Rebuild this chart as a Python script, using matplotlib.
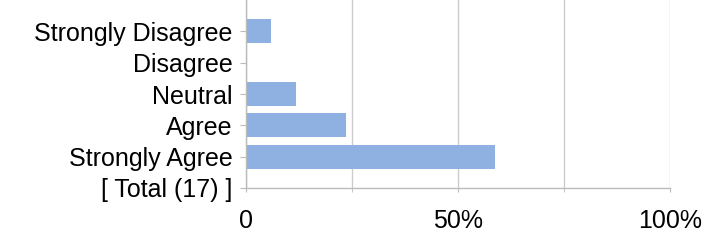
import numpy as np
import matplotlib.pyplot as plt

# survey answers, drawn bottom to top as listed in the picture
categories = ["[ Total (17) ]", "Strongly Agree", "Agree", "Neutral", "Disagree", "Strongly Disagree"]
counts = [None, 10, 4, 2, 0, 1]
total = 17
ticks = [0, 50, 100]
tick_labels = ["0", "50%", "100%"]

plt.rcParams['font.family'] = ['Liberation Sans', 'DejaVu Sans']

fig = plt.figure(figsize=(7.12, 2.4), dpi=100)
ax = fig.add_axes([246 / 712, 52 / 240, 424 / 712, 188 / 240])

# percent of respondents per answer; the total row has no bar
pos = np.arange(1, len(categories))
pct = [c / total * 100 for c in counts[1:]]
ax.barh(pos, pct, height=0.77, color="#8EB1E2", zorder=2)

ax.set_xlim(0, 100)
ax.set_ylim(0, len(categories))
ax.set_yticks(np.arange(len(categories)))
ax.set_yticklabels(categories, fontsize=18)
ax.set_xticks(ticks)
ax.set_xticklabels(tick_labels, fontsize=18)
ax.set_xticks([25, 75], minor=True)

# light vertical grid every 25%
ax.grid(axis="x", which="both", color="#cccccc", linewidth=1, zorder=0)
for s in ["top", "right"]:
    ax.spines[s].set_visible(False)
for s in ["left", "bottom"]:
    ax.spines[s].set_color("#bbbbbb")
    ax.spines[s].set_linewidth(1)

ax.tick_params(axis="y", length=4.5, color="#bbbbbb", pad=5)
ax.tick_params(axis="x", which="both", length=3, color="#bbbbbb", pad=12)

fig.savefig("out.png", dpi=100)
